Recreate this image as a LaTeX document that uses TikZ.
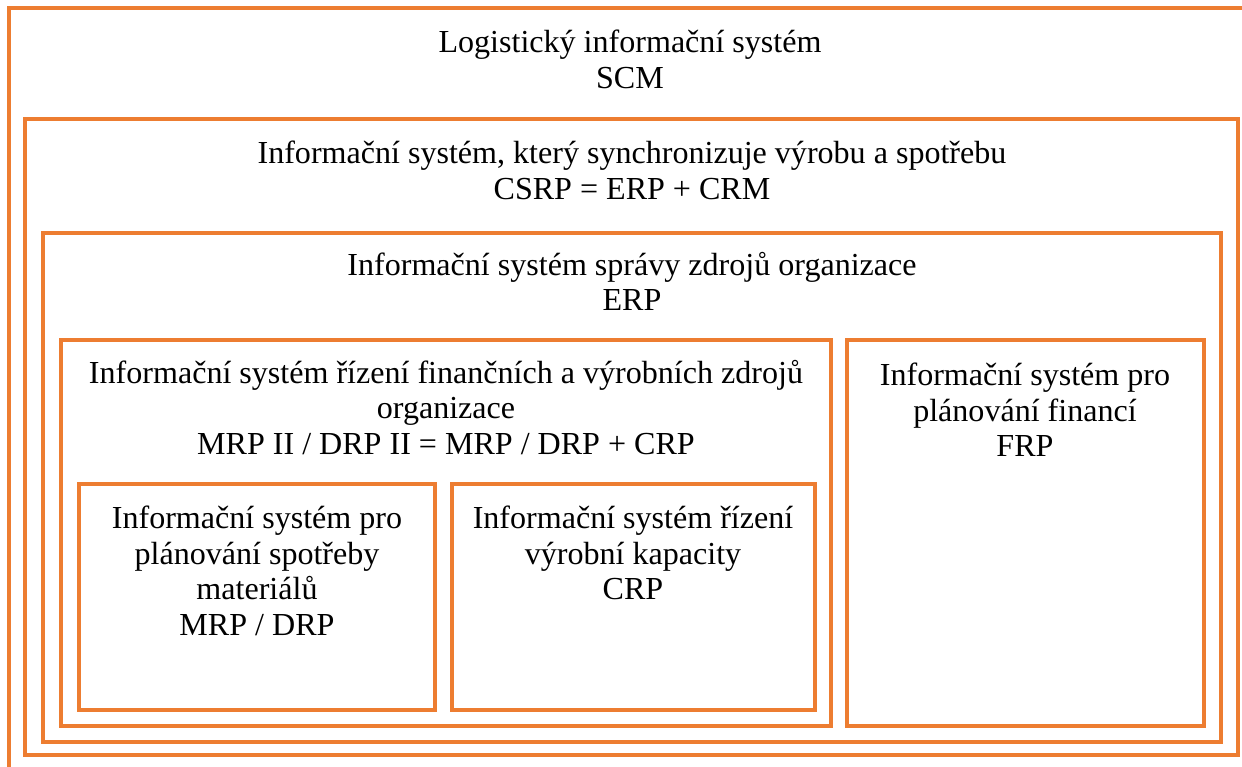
\documentclass[tikz,border=0pt]{standalone}
\usepackage{fontspec}
\setmainfont{Liberation Serif}
\usetikzlibrary{positioning}
\definecolor{boxorange}{HTML}{ED7D31}

\begin{document}
\begin{tikzpicture}[x=0.025cm,y=-0.025cm,
    frame/.style={draw=boxorange,line width=2.2pt},
    label/.style={align=center,anchor=north,inner sep=0pt,
        font=\fontsize{22.8}{25.2}\selectfont}]
    \useasboundingbox (0,0) rectangle (1242,767);

    % Outer frame (runs off the page at right and bottom)
    \draw[frame] (9,767) -- (9,8) -- (1242,8);
    % Nested frames
    \draw[frame] (25,119) rectangle (1238,755); % CSRP
    \draw[frame] (43,233) rectangle (1221,742); % ERP
    \draw[frame] (61,340) rectangle (831,726);  % MRP II / DRP II
    \draw[frame] (847,340) rectangle (1204,726); % FRP
    \draw[frame] (79,484) rectangle (435,710);  % MRP / DRP
    \draw[frame] (452,484) rectangle (815,710); % CRP

    % Texts
    \node[label] (scm) at (630,30) {Logistický informační systém\\SCM};
    \node[label] (csrp) at (632,141) {Informační systém, který synchronizuje výrobu a spotřebu\\CSRP = ERP + CRM};
    \node[label] (erp) at (632,252) {Informační systém správy zdrojů organizace\\ERP};
    \node[label] (mrpii) at (446,360) {Informační systém řízení finančních a výrobních zdrojů\\organizace\\MRP II / DRP II = MRP / DRP + CRP};
    \node[label] (frp) at (1025,363) {Informační systém pro\\plánování financí\\FRP};
    \node[label] (mrp) at (257,506) {Informační systém pro\\plánování spotřeby\\materiálů\\MRP / DRP};
    \node[label] (crp) at (633,506) {Informační systém řízení\\výrobní kapacity\\CRP};
\end{tikzpicture}
\end{document}
